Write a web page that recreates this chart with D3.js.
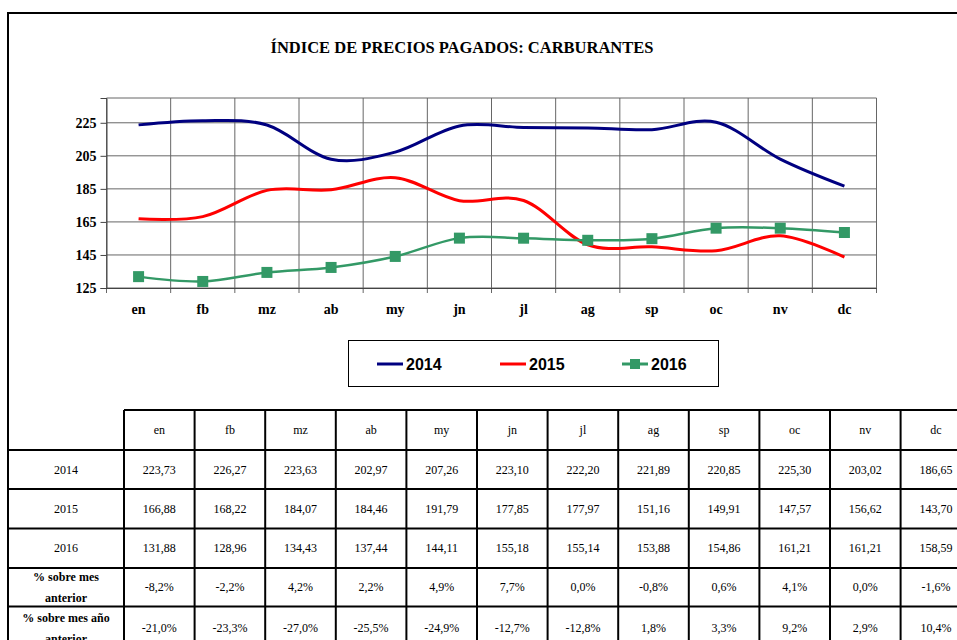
<!DOCTYPE html>
<html>
<head>
<meta charset="utf-8">
<script src="https://cdn.jsdelivr.net/npm/d3@7"></script>
<style>
  body { margin: 0; background: #fff; }
  svg { display: block; }
</style>
</head>
<body>
<svg id="chart" width="957" height="640"></svg>
<script>
// datos del gráfico
const meses = ['en', 'fb', 'mz', 'ab', 'my', 'jn', 'jl', 'ag', 'sp', 'oc', 'nv', 'dc'];
const v2014 = [223.73, 226.27, 223.63, 202.97, 207.26, 223.10, 222.20, 221.89, 220.85, 225.30, 203.02, 186.65];
const v2015 = [166.88, 168.22, 184.07, 184.46, 191.79, 177.85, 177.97, 151.16, 149.91, 147.57, 156.62, 143.70];
const v2016 = [131.88, 128.96, 134.43, 137.44, 144.11, 155.18, 155.14, 153.88, 154.86, 161.21, 161.21, 158.59];
const pctMes = ['-8,2%', '-2,2%', '4,2%', '2,2%', '4,9%', '7,7%', '0,0%', '-0,8%', '0,6%', '4,1%', '0,0%', '-1,6%'];
const pctAnio = ['-21,0%', '-23,3%', '-27,0%', '-25,5%', '-24,9%', '-12,7%', '-12,8%', '1,8%', '3,3%', '9,2%', '2,9%', '10,4%'];
const yTicks = [125, 145, 165, 185, 205, 225];

const series = [
  { name: '2014', values: v2014, color: '#000080', marker: false },
  { name: '2015', values: v2015, color: '#ff0000', marker: false },
  { name: '2016', values: v2016, color: '#339966', marker: true }
];

const serif = '"Liberation Serif", "Times New Roman", serif';
const sans = '"Liberation Sans", Arial, sans-serif';
const fmt = v => v.toFixed(2).replace('.', ',');

const svg = d3.select('#chart');

// marco exterior
svg.append('rect')
  .attr('x', 8).attr('y', 13)
  .attr('width', 1000).attr('height', 700)
  .attr('fill', 'none').attr('stroke', '#000').attr('stroke-width', 2);

// título
svg.append('text')
  .attr('x', 462).attr('y', 53)
  .attr('text-anchor', 'middle')
  .style('font-family', serif).style('font-weight', 'bold').style('font-size', '16.5px')
  .text('ÍNDICE DE PRECIOS PAGADOS: CARBURANTES');

// escalas
const x = d3.scaleBand().domain(meses).range([106.5, 876.5]).padding(0);
const y = d3.scaleLinear().domain([125, 240]).range([288, 98]);
const cx = m => x(m) + x.bandwidth() / 2;

const plot = svg.append('g');

// rejilla horizontal
plot.selectAll('line.hgrid')
  .data(yTicks.concat([240]))
  .enter().append('line')
  .attr('x1', 106.5).attr('x2', 876.5)
  .attr('y1', d => y(d)).attr('y2', d => y(d))
  .style('stroke', '#666').style('stroke-width', 1);

// rejilla vertical (con marca bajo el eje)
const bordes = meses.map(m => x(m)).concat([876.5]);
plot.selectAll('line.vgrid')
  .data(bordes)
  .enter().append('line')
  .attr('x1', d => d).attr('x2', d => d)
  .attr('y1', y(240)).attr('y2', y(125) + 5)
  .style('stroke', '#666').style('stroke-width', 1);

// eje y
const yAxis = plot.append('g')
  .attr('transform', 'translate(106.5,0)')
  .call(d3.axisLeft(y).tickValues(yTicks).tickSize(6).tickPadding(4));
yAxis.select('.domain').style('stroke', '#444');
yAxis.selectAll('.tick line').style('stroke', '#444');
yAxis.selectAll('text')
  .style('font-family', serif).style('font-weight', 'bold').style('font-size', '14px').attr('fill', '#000');

// eje x
const xAxis = plot.append('g')
  .attr('transform', `translate(0,${y(125)})`)
  .call(d3.axisBottom(x).tickSize(0).tickPadding(16));
xAxis.select('.domain').style('stroke', '#444');
xAxis.selectAll('text')
  .style('font-family', serif).style('font-weight', 'bold').style('font-size', '14px').attr('fill', '#000');

// líneas
const line = d3.line()
  .x((d, i) => cx(meses[i]))
  .y(d => y(d))
  .curve(d3.curveCardinal.tension(0));

series.forEach(s => {
  plot.append('path')
    .datum(s.values)
    .attr('d', line)
    .attr('fill', 'none')
    .attr('stroke', s.color)
    .attr('stroke-width', s.marker ? 2.5 : 3);
  if (s.marker) {
    plot.selectAll('rect.m' + s.name)
      .data(s.values)
      .enter().append('rect')
      .attr('x', (d, i) => cx(meses[i]) - 5.5)
      .attr('y', d => y(d) - 5.5)
      .attr('width', 11).attr('height', 11)
      .attr('fill', s.color);
  }
});

// leyenda
svg.append('rect')
  .attr('x', 348.5).attr('y', 340.5).attr('width', 370).attr('height', 46)
  .attr('fill', '#fff').attr('stroke', '#000').attr('stroke-width', 1);
const legX = [377, 500, 622];
series.forEach((s, i) => {
  const g = svg.append('g').attr('transform', `translate(${legX[i]},364)`);
  g.append('line').attr('x1', 0).attr('x2', 26).attr('y1', 0).attr('y2', 0)
    .attr('stroke', s.color).attr('stroke-width', 3);
  if (s.marker) {
    g.append('rect').attr('x', 8).attr('y', -5).attr('width', 10).attr('height', 10).attr('fill', s.color);
  }
  g.append('text').attr('x', 29).attr('y', 6)
    .style('font-family', sans).style('font-weight', 'bold').style('font-size', '16px')
    .text(s.name);
});

// tabla
const colX = d3.range(13).map(i => 124 + 70.6 * i);
const rowY = [410, 450, 489, 528.5, 568, 606.5, 660];
const tabla = svg.append('g');
const filas = [
  { label: '2014', cells: v2014.map(fmt), bold: false },
  { label: '2015', cells: v2015.map(fmt), bold: false },
  { label: '2016', cells: v2016.map(fmt), bold: false },
  { label: ['% sobre mes', 'anterior'], cells: pctMes, bold: true },
  { label: ['% sobre mes año', 'anterior'], cells: pctAnio, bold: true }
];

// líneas horizontales
tabla.append('line').attr('x1', colX[0]).attr('x2', 960).attr('y1', rowY[0]).attr('y2', rowY[0])
  .attr('stroke', '#000').attr('stroke-width', 2);
rowY.slice(1, 6).forEach(yy => {
  tabla.append('line').attr('x1', 8).attr('x2', 960).attr('y1', yy).attr('y2', yy)
    .attr('stroke', '#000').attr('stroke-width', 2);
});
// líneas verticales
colX.forEach(xx => {
  tabla.append('line').attr('x1', xx).attr('x2', xx).attr('y1', rowY[0]).attr('y2', 640)
    .attr('stroke', '#000').attr('stroke-width', 2);
});

// cabecera
meses.forEach((m, i) => {
  tabla.append('text')
    .attr('x', (colX[i] + colX[i + 1]) / 2).attr('y', (rowY[0] + rowY[1]) / 2 + 4)
    .attr('text-anchor', 'middle')
    .style('font-family', serif).style('font-size', '12px')
    .text(m);
});

filas.forEach((f, r) => {
  const yc = r < 4 ? (rowY[r + 1] + rowY[r + 2]) / 2 : 628;
  if (Array.isArray(f.label)) {
    f.label.forEach((t, k) => {
      tabla.append('text')
        .attr('x', 66).attr('y', yc - 6 + k * 21)
        .attr('text-anchor', 'middle')
        .style('font-family', serif).style('font-weight', 'bold').style('font-size', '12px')
        .text(t);
    });
  } else {
    tabla.append('text')
      .attr('x', 66).attr('y', yc + 4)
      .attr('text-anchor', 'middle')
      .style('font-family', serif).style('font-size', '12px')
      .text(f.label);
  }
  f.cells.forEach((c, i) => {
    tabla.append('text')
      .attr('x', (colX[i] + colX[i + 1]) / 2).attr('y', yc + 4)
      .attr('text-anchor', 'middle')
      .style('font-family', serif).style('font-size', '12px')
      .text(c);
  });
});
</script>
</body>
</html>
